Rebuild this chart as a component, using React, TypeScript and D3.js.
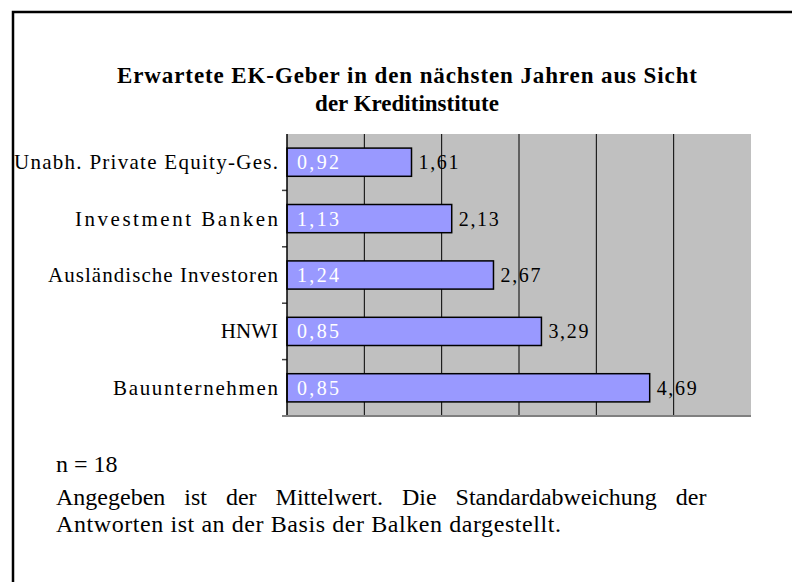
import React from "react";
import * as d3 from "d3";

const categories = [
  "Unabh. Private Equity-Ges.",
  "Investment Banken",
  "Ausländische Investoren",
  "HNWI",
  "Bauunternehmen",
];
const means = [1.61, 2.13, 2.67, 3.29, 4.69];
const stdDevs = [0.92, 1.13, 1.24, 0.85, 0.85];
const xTicks = [0, 1, 2, 3, 4, 5, 6];
const titleLines = ["Erwartete EK-Geber in den nächsten Jahren aus Sicht", "der Kreditinstitute"];
const noteLines = [
  "n = 18",
  "Angegeben ist der Mittelwert. Die Standardabweichung der",
  "Antworten ist an der Basis der Balken dargestellt.",
];

const fmt = (v: number) => v.toFixed(2).replace(".", ",");

const FONT = "'Liberation Serif', 'DejaVu Serif', serif";
const catWidths = [264, 203, 230, 0, 165];

export default function App() {
  const W = 792;
  const H = 582;
  const left = 287;
  const right = 751;
  const top = 134;
  const bottom = 416;
  const x = d3.scaleLinear().domain([0, 6]).range([left, right]);
  const y = d3
    .scaleBand<string>()
    .domain(categories)
    .range([top, bottom])
    .paddingInner(0.5)
    .paddingOuter(0.25);
  const boundaries = categories
    .slice(1)
    .map((c) => (y(c) as number) - (y.step() * y.paddingInner()) / 2);
  const ts = { fontFamily: FONT };

  return (
    <svg
      width={W}
      height={H}
      style={{ position: "absolute", left: 0, top: 0, background: "#fff" }}
    >
      <rect x={13} y={12} width={800} height={600} fill="#fff" stroke="#000" strokeWidth={2.5} />
      <text
        x={407}
        y={83}
        textAnchor="middle"
        fontWeight="bold"
        fontSize={23}
        fill="#000"
        style={ts}
        textLength={580}
        lengthAdjust="spacing"
      >
        {titleLines[0]}
      </text>
      <text
        x={407}
        y={111}
        textAnchor="middle"
        fontWeight="bold"
        fontSize={23}
        fill="#000"
        style={ts}
      >
        {titleLines[1]}
      </text>
      <rect x={left} y={top} width={right - left} height={bottom - top} fill="#C0C0C0" />
      {xTicks.slice(1, -1).map((t) => (
        <line key={t} x1={x(t)} x2={x(t)} y1={top} y2={bottom} stroke="#000" strokeWidth={1} />
      ))}
      {categories.map((c, i) => {
        const yy = y(c) as number;
        const bw = y.bandwidth();
        const cw = catWidths[i];
        return (
          <g key={c}>
            <rect
              x={x(0)}
              y={yy}
              width={x(means[i]) - x(0)}
              height={bw}
              fill="#9999FF"
              stroke="#000"
              strokeWidth={1.5}
            />
            <text
              x={x(0) + 10}
              y={yy + bw / 2 + 7}
              fontSize={20}
              fill="#fff"
              style={ts}
              textLength={42}
              lengthAdjust="spacing"
            >
              {fmt(stdDevs[i])}
            </text>
            <text
              x={x(means[i]) + 7}
              y={yy + bw / 2 + 7}
              fontSize={20}
              fill="#000"
              style={ts}
              textLength={40}
              lengthAdjust="spacing"
            >
              {fmt(means[i])}
            </text>
            {cw > 0 ? (
              <text
                x={278 - cw}
                y={yy + bw / 2 + 7}
                fontSize={21}
                fill="#000"
                style={ts}
                textLength={cw}
                lengthAdjust="spacing"
              >
                {c}
              </text>
            ) : (
              <text
                x={278}
                y={yy + bw / 2 + 7}
                fontSize={21}
                fill="#000"
                style={ts}
                textAnchor="end"
              >
                {c}
              </text>
            )}
          </g>
        );
      })}
      {boundaries.map((b, i) => (
        <line key={i} x1={282} x2={left} y1={b} y2={b} stroke="#404040" strokeWidth={1.5} />
      ))}
      <line x1={left} x2={left} y1={top} y2={bottom} stroke="#000" strokeWidth={1.5} />
      <line x1={282} x2={right} y1={bottom} y2={bottom} stroke="#808080" strokeWidth={2} />
      <text x={56} y={472} fontSize={24} fill="#000" style={ts}>
        {noteLines[0]}
      </text>
      <text x={56} y={505} fontSize={24} fill="#000" style={{ ...ts, wordSpacing: 13 }}>
        {noteLines[1]}
      </text>
      <text
        x={56}
        y={532}
        fontSize={24}
        fill="#000"
        style={ts}
        textLength={505}
        lengthAdjust="spacing"
      >
        {noteLines[2]}
      </text>
    </svg>
  );
}
